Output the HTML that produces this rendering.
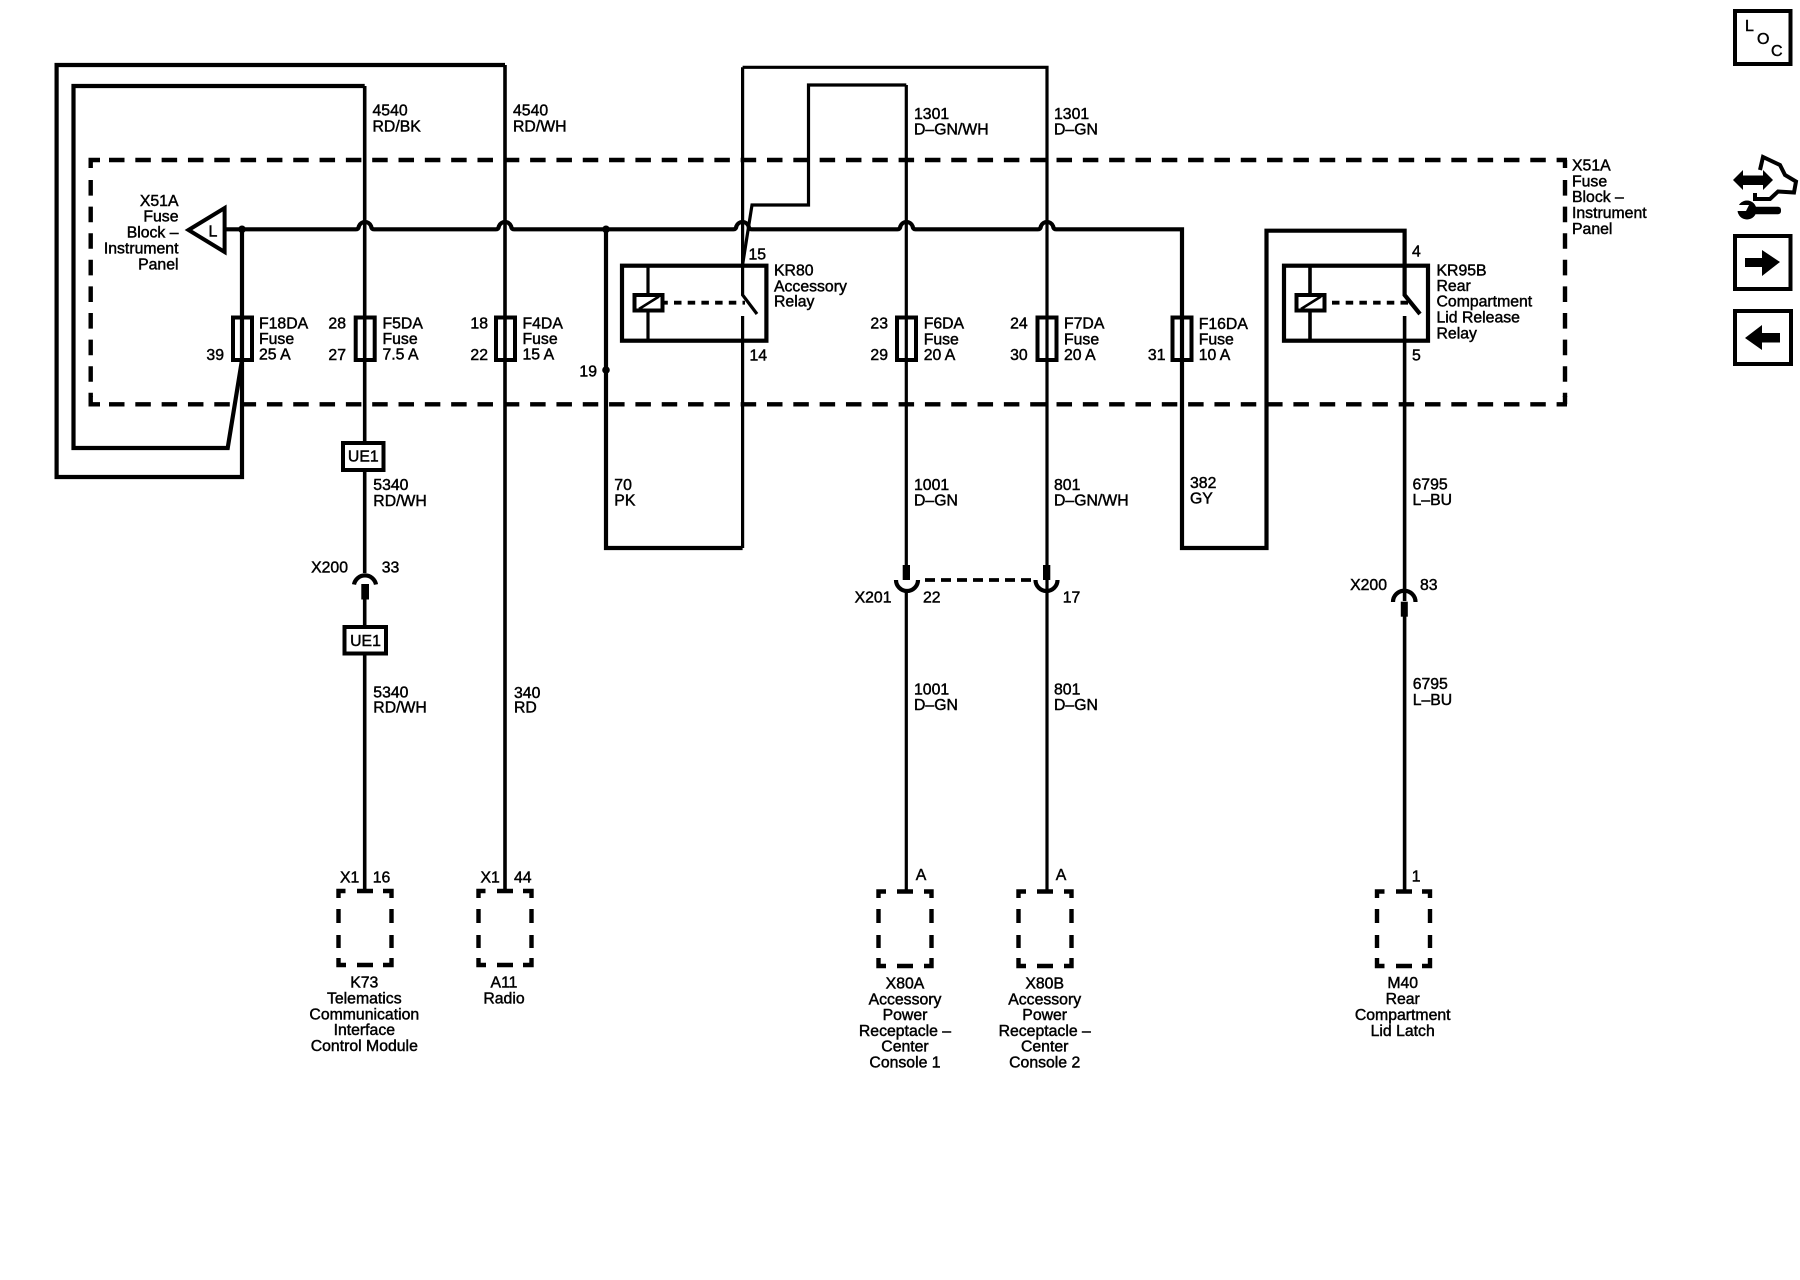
<!DOCTYPE html>
<html><head><meta charset="utf-8"><title>Wiring diagram</title>
<style>
html,body{margin:0;padding:0;background:#fff}
svg{display:block}
text{font-family:"Liberation Sans",Arial,sans-serif;font-size:15.8px;fill:#000;stroke:#000;stroke-width:.45}
.m{text-anchor:middle}.e{text-anchor:end}
.w{fill:none;stroke:#000;stroke-width:3.6}
.n{fill:none;stroke:#000;stroke-width:3.2}
.t{fill:none;stroke:#000;stroke-width:4.2}
.b{fill:#fff;stroke:#000;stroke-width:4}
</style></head><body>
<svg width="1800" height="1280" viewBox="0 0 1800 1280" xmlns="http://www.w3.org/2000/svg">
<rect width="1800" height="1280" fill="#fff"/>

<!-- dashed fuse block -->
<g fill="none" stroke="#000" stroke-width="4.4">
<path d="M109 160H1567M109 404.3H1567" stroke-dasharray="15.5 10.82"/>
<path d="M90.7 180V397M1565 180V397" stroke-dasharray="15.6 11"/>
<path d="M90.7 168V160H100M90.7 396V404.3H100M1565 168V160M1565 396V404.3"/>
</g>

<!-- bus with humps -->
<path class="t" d="M224 229.3H356Q358.5 229.3 359 226A6.5 6.5 0 0 1 371 226Q371.5 229.3 374 229.3H496Q498.5 229.3 499 226A6.5 6.5 0 0 1 511 226Q511.5 229.3 514 229.3H733.5Q736 229.3 736.5 226A6.5 6.5 0 0 1 748.5 226Q749 229.3 751.5 229.3H897.5Q900 229.3 900.5 226A6.5 6.5 0 0 1 912.5 226Q913 229.3 915.5 229.3H1038Q1040.5 229.3 1041 226A6.5 6.5 0 0 1 1053 226Q1053.5 229.3 1056 229.3H1182V548H1266.5V230.7H1404.6V295L1420 314"/>

<!-- wiring -->
<path class="t" d="M505 65H56.6V477H242V229.3"/>
<path class="t" d="M364.7 86H73.5V448H227.7L242 360"/>
<path class="w" d="M364.7 86V573M364.7 599V892"/>
<path class="w" d="M505 65V892"/>
<path class="t" d="M606 229.3V548H742.6"/>
<path class="n" d="M742.6 316V548"/>
<path class="n" d="M742.6 67.3V295L757 314"/>
<path class="n" d="M742.6 67.3H1047V892"/>
<path class="n" d="M906.3 85V565M906.3 590V892"/>
<path class="n" d="M906.3 85H808.5V205H752L742.7 264"/>
<path class="w" d="M1404.6 316V601M1404.6 616V892"/>
<circle cx="242" cy="229.3" r="3.8"/><circle cx="606" cy="229.3" r="3.8"/><circle cx="606" cy="370" r="3.8"/>

<!-- L triangle -->
<path class="b" d="M188.5 230L224.6 208V252Z"/>
<text x="208.500" y="236.500" style="font-size:16px">L</text>

<!-- fuses -->
<g fill="none" stroke="#000" stroke-width="4">
<rect x="233" y="317.5" width="19" height="42.5"/>
<rect x="355.7" y="317.5" width="19" height="42.5"/>
<rect x="496" y="317.5" width="19" height="42.5"/>
<rect x="897" y="317.5" width="19" height="42.5"/>
<rect x="1037.5" y="317.5" width="19" height="42.5"/>
<rect x="1172.5" y="317.5" width="19" height="42.5"/>
</g>

<!-- relays -->
<rect x="622" y="265.7" width="144.4" height="75" fill="none" stroke="#000" stroke-width="4.2"/>
<path class="n" d="M648 265.7V340.7"/>
<rect x="634.5" y="295" width="28" height="15.5" class="b"/>
<path d="M639 309L659 296.5" stroke="#000" stroke-width="2.6"/>
<path d="M664 302.7H745" fill="none" stroke="#000" stroke-width="3.8" stroke-dasharray="7.5 6.2" stroke-dashoffset="-10"/>

<rect x="1284" y="265.7" width="144" height="75" fill="none" stroke="#000" stroke-width="4.2"/>
<path class="w" d="M1310 265.7V340.7"/>
<rect x="1296.5" y="295" width="28" height="15.5" class="b"/>
<path d="M1301 309L1321 296.5" stroke="#000" stroke-width="2.6"/>
<path d="M1326 302.7H1408" fill="none" stroke="#000" stroke-width="3.8" stroke-dasharray="7.5 6.2" stroke-dashoffset="-6"/>

<!-- UE1 -->
<rect x="343" y="443" width="40.5" height="27" class="b"/>
<rect x="344.500" y="627" width="41.5" height="26.5" class="b"/>
<text class="m" x="363.3" y="461.7">UE1</text>
<text class="m" x="365.5" y="646">UE1</text>

<!-- inline connectors -->
<path class="t" d="M354 584.500A11.2 11.2 0 0 1 376 584.500"/>
<rect x="361.3" y="584" width="7.7" height="15.5"/>
<path class="t" d="M1393 602A11.2 11.2 0 0 1 1415.500 602"/>
<rect x="1400.8" y="601.7" width="7" height="15"/>
<path class="t" d="M896 580A11 11 0 0 0 918 580"/>
<rect x="902.7" y="565" width="7.3" height="15"/>
<path class="t" d="M1035.500 580A11 11 0 0 0 1057.500 580"/>
<rect x="1043" y="565" width="7.3" height="15"/>
<path d="M925 580H1034" fill="none" stroke="#000" stroke-width="3.8" stroke-dasharray="10 6"/>

<!-- dashed components -->
<g fill="none" stroke="#000" stroke-width="4.4">
<path d="M345.500 891H338.500V898M357 891H373M383 891H391.500V898M338.500 909V923M338.500 935V948M338.500 958V965H346M357 965H373M383 965H391.500V958M391.500 948V935M391.500 923V909"/>
<path d="M485.500 891H478.500V898M497 891H513M523 891H531.500V898M478.500 909V923M478.500 935V948M478.500 958V965H486M497 965H513M523 965H531.500V958M531.500 948V935M531.500 923V909"/>
<path d="M886 891.500H878.500V898M897 891.500H913M924 891.500H931.500V898M878.500 909V923M878.500 935V948M878.500 958V966H886M897 966H913M924 966H931.500V958M931.500 948V935M931.500 923V909"/>
<path d="M1026 891.500H1018.500V898M1037 891.500H1053M1064 891.500H1071.500V898M1018.500 909V923M1018.500 935V948M1018.500 958V966H1026M1037 966H1053M1064 966H1071.500V958M1071.500 948V935M1071.500 923V909"/>
<path d="M1384.500 891.500H1377V898M1396 891.500H1412M1422 891.500H1430V898M1377 909V923M1377 935V948M1377 958V966H1384.500M1396 966H1412M1422 966H1430V958M1430 948V935M1430 923V909"/>
</g>

<!-- wire labels -->
<text x="372.500" y="115.7">4540</text><text x="372.500" y="131.7">RD/BK</text>
<text x="513" y="115.7">4540</text><text x="513" y="131.7">RD/WH</text>
<text x="914" y="119">1301</text><text x="914" y="134.3">D–GN/WH</text>
<text x="1054" y="119">1301</text><text x="1054" y="134.3">D–GN</text>

<text class="e" x="178.5" y="206">X51A</text><text class="e" x="178.5" y="221.7">Fuse</text><text class="e" x="178.5" y="237.3">Block –</text><text class="e" x="178.5" y="253.3">Instrument</text><text class="e" x="178.5" y="269.3">Panel</text>
<text x="1572" y="170.7">X51A</text><text x="1572" y="186.3">Fuse</text><text x="1572" y="202">Block –</text><text x="1572" y="218">Instrument</text><text x="1572" y="234">Panel</text>

<text x="259" y="328.3">F18DA</text><text x="259" y="343.8">Fuse</text><text x="259" y="359.5">25 A</text>
<text class="e" x="224" y="360">39</text>
<text class="e" x="346" y="328.3">28</text><text class="e" x="346" y="360">27</text>
<text x="382.5" y="328.3">F5DA</text><text x="382.5" y="343.8">Fuse</text><text x="382.5" y="359.5">7.5 A</text>
<text class="e" x="488" y="328.3">18</text><text class="e" x="488" y="360">22</text>
<text x="522.5" y="328.3">F4DA</text><text x="522.5" y="343.8">Fuse</text><text x="522.5" y="359.5">15 A</text>
<text class="e" x="597" y="376.7">19</text>
<text x="748.5" y="259.3">15</text><text x="749.5" y="360.7">14</text>
<text x="774" y="275.7">KR80</text><text x="774" y="291.7">Accessory</text><text x="774" y="306.7">Relay</text>
<text class="e" x="888" y="328.7">23</text><text class="e" x="888" y="360">29</text>
<text x="923.7" y="328.7">F6DA</text><text x="923.7" y="344.3">Fuse</text><text x="923.7" y="360">20 A</text>
<text class="e" x="1027.7" y="328.7">24</text><text class="e" x="1027.7" y="360">30</text>
<text x="1064" y="328.7">F7DA</text><text x="1064" y="344.3">Fuse</text><text x="1064" y="360">20 A</text>
<text class="e" x="1165.5" y="360">31</text>
<text x="1198.7" y="329">F16DA</text><text x="1198.7" y="344.3">Fuse</text><text x="1198.7" y="360">10 A</text>
<text x="1412" y="256.700">4</text><text x="1412" y="360.700">5</text>
<text x="1436.500" y="275.3">KR95B</text><text x="1436.500" y="291">Rear</text><text x="1436.500" y="306.7">Compartment</text><text x="1436.500" y="322.7">Lid Release</text><text x="1436.500" y="338.3">Relay</text>

<text x="373.3" y="490">5340</text><text x="373.3" y="506">RD/WH</text>
<text x="614.3" y="490">70</text><text x="614.3" y="505.7">PK</text>
<text x="914" y="490">1001</text><text x="914" y="505.7">D–GN</text>
<text x="1054" y="490">801</text><text x="1054" y="505.7">D–GN/WH</text>
<text x="1190" y="488">382</text><text x="1190" y="503.5">GY</text>
<text x="1412.500" y="489.5">6795</text><text x="1412.500" y="505">L–BU</text>

<text class="e" x="348" y="572.7">X200</text><text x="381.7" y="572.7">33</text>
<text class="e" x="891.500" y="602.7">X201</text><text x="923" y="602.7">22</text><text x="1062.7" y="602.7">17</text>
<text class="e" x="1387" y="590">X200</text><text x="1420" y="590">83</text>

<text x="373.3" y="697.3">5340</text><text x="373.3" y="712.7">RD/WH</text>
<text x="514" y="698">340</text><text x="514" y="712.7">RD</text>
<text x="914" y="694.3">1001</text><text x="914" y="710">D–GN</text>
<text x="1054" y="694.3">801</text><text x="1054" y="710">D–GN</text>
<text x="1412.7" y="689">6795</text><text x="1412.7" y="705">L–BU</text>

<text x="340" y="882.7">X1</text><text x="372.7" y="882.7">16</text>
<text x="480.500" y="882.7">X1</text><text x="514" y="882.7">44</text>
<text x="915.7" y="880">A</text><text x="1055.7" y="880">A</text><text x="1411.7" y="881.7">1</text>

<text class="m" x="364.3" y="987.3">K73</text><text class="m" x="364.3" y="1003.3">Telematics</text><text class="m" x="364.3" y="1019.3">Communication</text><text class="m" x="364.3" y="1035">Interface</text><text class="m" x="364.3" y="1051">Control Module</text>
<text class="m" x="504" y="987.3">A11</text><text class="m" x="504" y="1003.3">Radio</text>
<text class="m" x="905" y="988.3">X80A</text><text class="m" x="905" y="1004.3">Accessory</text><text class="m" x="905" y="1020">Power</text><text class="m" x="905" y="1036">Receptacle –</text><text class="m" x="905" y="1051.7">Center</text><text class="m" x="905" y="1067.7">Console 1</text>
<text class="m" x="1044.7" y="988.3">X80B</text><text class="m" x="1044.7" y="1004.3">Accessory</text><text class="m" x="1044.7" y="1020">Power</text><text class="m" x="1044.7" y="1036">Receptacle –</text><text class="m" x="1044.7" y="1051.7">Center</text><text class="m" x="1044.7" y="1067.7">Console 2</text>
<text class="m" x="1402.7" y="988">M40</text><text class="m" x="1402.7" y="1004">Rear</text><text class="m" x="1402.7" y="1020">Compartment</text><text class="m" x="1402.7" y="1036">Lid Latch</text>

<!-- side icons -->
<rect x="1735" y="11" width="55.5" height="53" fill="none" stroke="#000" stroke-width="4"/>
<text x="1745" y="31" style="font-size:16px">L</text><text x="1757" y="44" style="font-size:16px">O</text><text x="1771" y="56" style="font-size:16px">C</text>

<path d="M1733 180L1743 170V175.500H1763V170L1773 180L1763 190V185H1743V190Z"/>
<path fill="none" stroke="#000" stroke-width="4" d="M1760 170L1763 157L1780 165L1785 175L1796 181.500L1794 192.500L1778 191.500L1770 199H1755V193"/>
<circle cx="1747" cy="210" r="9.500"/>
<rect x="1747" y="206.700" width="34" height="7.500" rx="3"/>
<path d="M1737 205H1749L1746 211H1737Z" fill="#fff"/>

<rect x="1735" y="236" width="55.5" height="53" fill="none" stroke="#000" stroke-width="4"/>
<path d="M1745 258H1762V250L1780 262L1762 276V267H1745Z"/>
<rect x="1735" y="311" width="56" height="53" fill="none" stroke="#000" stroke-width="4"/>
<path d="M1780 333H1762V325L1745 338L1762 350V342.500H1780Z"/>
</svg>
</body></html>
